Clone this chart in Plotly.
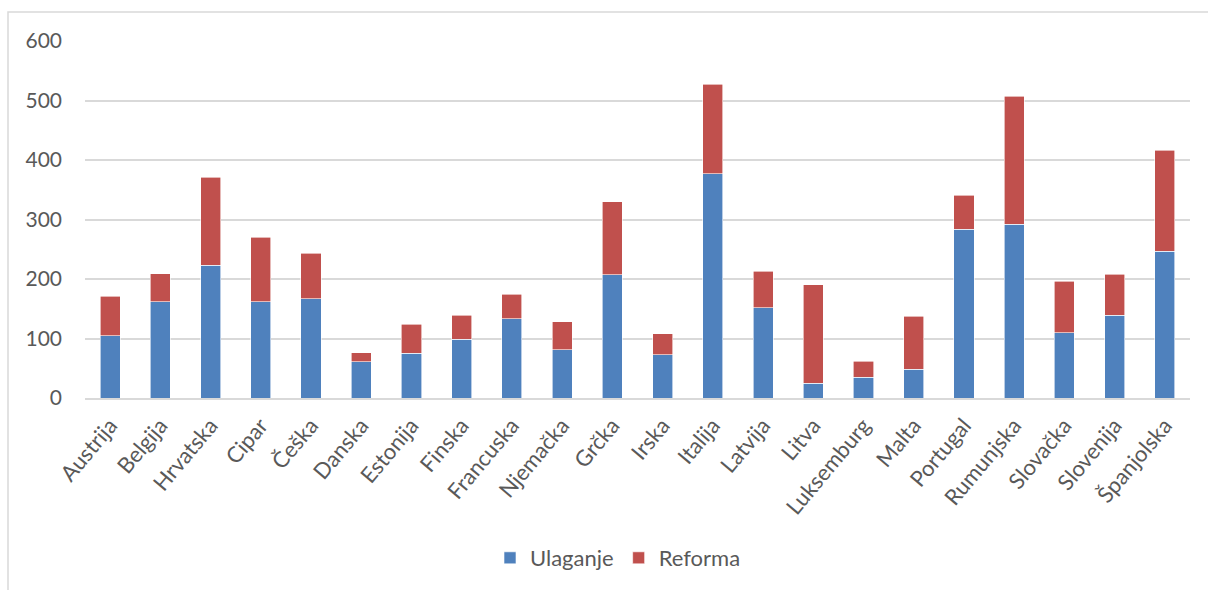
import plotly.graph_objects as go

countries = ["Austrija", "Belgija", "Hrvatska", "Cipar", "Češka", "Danska", "Estonija",
             "Finska", "Francuska", "Njemačka", "Grčka", "Irska", "Italija", "Latvija",
             "Litva", "Luksemburg", "Malta", "Portugal", "Rumunjska", "Slovačka",
             "Slovenija", "Španjolska"]
ulaganje = [105, 162, 223, 162, 167, 61, 75, 99, 133, 81, 207, 73, 377, 152,
            25, 35, 48, 284, 292, 110, 139, 247]
reforma = [66, 47, 148, 108, 76, 15, 49, 40, 41, 47, 123, 35, 150, 61,
           165, 27, 89, 57, 215, 86, 69, 169]
y_ticks = [0, 100, 200, 300, 400, 500, 600]

W, H = 1208, 590
ML, MR, MT, MB = 85, 18, 41, 192
pw, ph = W - ML - MR, H - MT - MB

fig = go.Figure()
fig.add_trace(go.Bar(x=countries, y=ulaganje, name="Ulaganje",
                     marker=dict(color="#4f81bd", line=dict(color="#ffffff", width=0.6))))
fig.add_trace(go.Bar(x=countries, y=reforma, name="Reforma",
                     marker=dict(color="#c0504d", line=dict(color="#ffffff", width=0.6))))

font = "Lato, 'Open Sans', sans-serif"
fig.update_layout(
    width=W, height=H,
    barmode="stack", bargap=0.6,
    margin=dict(l=ML, r=MR, t=MT, b=MB, autoexpand=False),
    paper_bgcolor="white", plot_bgcolor="white",
    font=dict(family=font, size=21, color="#595959"),
    showlegend=True,
    legend=dict(orientation="h", x=(618 - ML) / pw, xanchor="center",
                y=(MT + ph - 558) / ph, yanchor="middle",
                font=dict(size=22, color="#595959"), traceorder="normal",
                itemwidth=30),
    xaxis=dict(tickangle=-50, showgrid=False, showline=True,
               linecolor="#d9d9d9", linewidth=2, ticks="", ticklabelstandoff=4,
               tickfont=dict(size=22, color="#595959")),
    yaxis=dict(range=[0, 600], tickvals=y_ticks, showgrid=True, gridcolor="#d9d9d9",
               gridwidth=2, zeroline=False, showline=False, ticks="",
               ticklabelstandoff=22, tickfont=dict(size=21, color="#595959")),
)

# chart area border
fig.add_shape(type="rect", xref="paper", yref="paper",
              x0=(8 - ML) / pw, x1=(W + 5 - ML) / pw,
              y0=(MT + ph - (H + 5)) / ph, y1=(MT + ph - 12) / ph,
              line=dict(color="#d9d9d9", width=1.5), fillcolor="rgba(0,0,0,0)",
              layer="below")

fig.write_html("out.html", config={"displayModeBar": False},
               post_script="document.body.style.margin='0';document.body.style.overflow='hidden';")
